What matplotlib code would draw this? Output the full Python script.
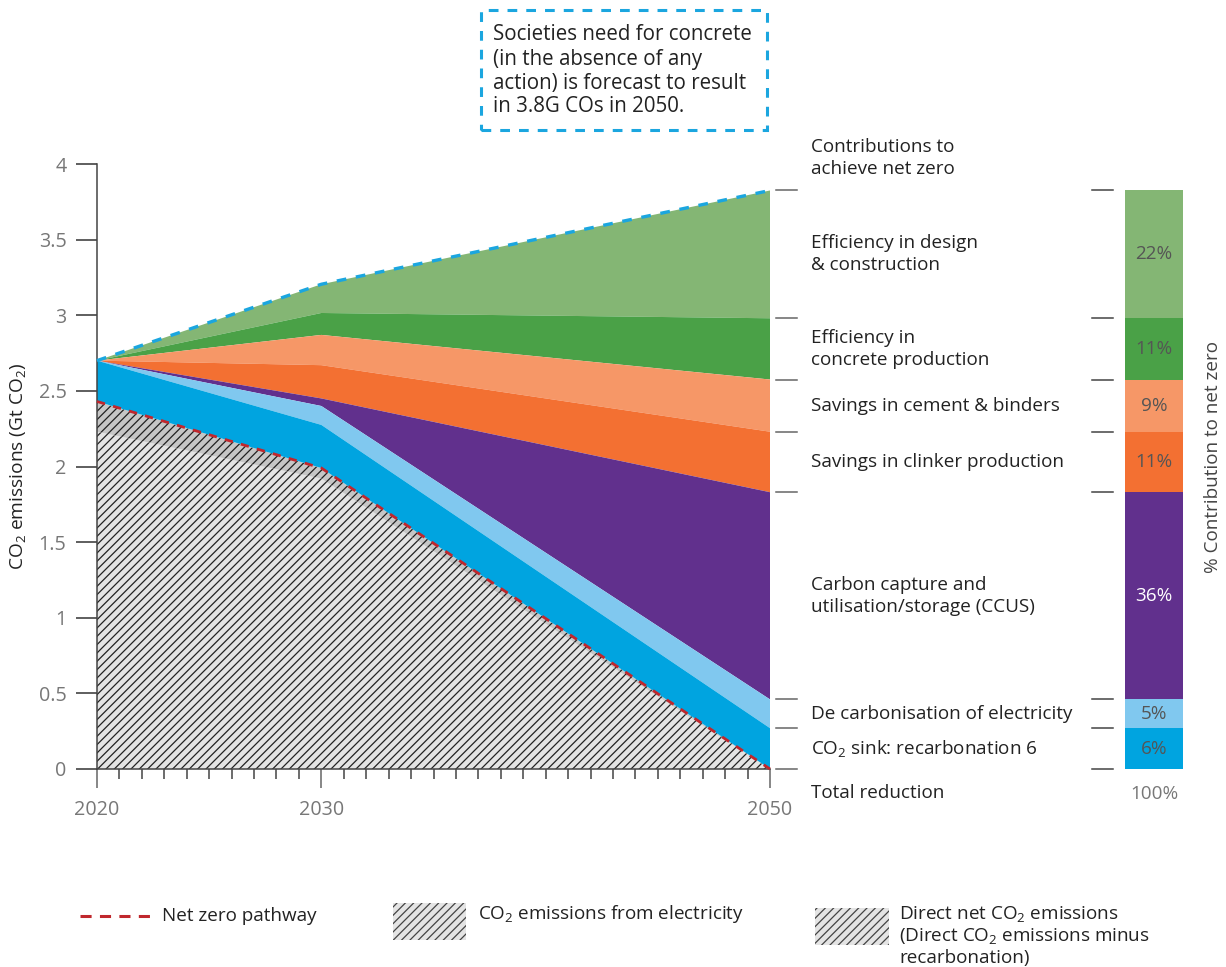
import matplotlib
matplotlib.use('Agg')
import matplotlib.pyplot as plt
from matplotlib.lines import Line2D
from matplotlib.patches import Rectangle

plt.rcParams['font.family'] = ['Open Sans', 'DejaVu Sans']
plt.rcParams['mathtext.default'] = 'regular'
plt.rcParams['hatch.linewidth'] = 0.9
plt.rcParams['lines.scale_dashes'] = False

# data (Gt CO2, tops of each stacked layer)
years = [2020, 2030, 2050]
direct_net_top = [2.23, 1.92, 0.0]
net_zero_top = [2.43, 1.99, 0.0]
recarbonation_top = [2.70, 2.275, 0.27]
electricity_top = [2.70, 2.40, 0.46]
ccus_top = [2.70, 2.45, 1.83]
clinker_top = [2.70, 2.67, 2.23]
cement_top = [2.70, 2.87, 2.575]
concrete_top = [2.70, 3.015, 2.98]
design_top = [2.70, 3.205, 3.825]

layer_labels = ['Efficiency in design\n& construction',
                'Efficiency in\nconcrete production',
                'Savings in cement & binders',
                'Savings in clinker production',
                'Carbon capture and\nutilisation/storage (CCUS)',
                'De carbonisation of electricity',
                'CO$_2$ sink: recarbonation 6']
layer_pcts = ['22%', '11%', '9%', '11%', '36%', '5%', '6%']

colors = ['#84b674', '#4aa147', '#f69767', '#f37032', '#61308d', '#80c8ef', '#00a4e0']

W, H = 1226, 967
FS = 13.6
fig = plt.figure(figsize=(W / 100, H / 100), dpi=100)

def px_box(x0, y0, x1, y1):
    return [x0 / W, 1 - y1 / H, (x1 - x0) / W, (y1 - y0) / H]

ax = fig.add_axes(px_box(97, 164, 770, 769))
ax.set_xlim(2020, 2050)
ax.set_ylim(0, 4)

# hatched bottom layers
ax.fill_between(years, 0, direct_net_top, facecolor='#e4e4e4', edgecolor='#222222',
                hatch='////', linewidth=0)
ax.fill_between(years, direct_net_top, net_zero_top, facecolor='#c6c6c6', edgecolor='#222222',
                hatch='////', linewidth=0)

tops = [design_top, concrete_top, cement_top, clinker_top, ccus_top, electricity_top, recarbonation_top]
bottoms = tops[1:] + [net_zero_top]
for top, bot, c in zip(tops, bottoms, colors):
    ax.fill_between(years, bot, top, facecolor=c, linewidth=0)

ax.plot(years, net_zero_top, color='#c0272d', lw=2.0, linestyle=(0, (6, 6)), clip_on=False, zorder=5)
ax.plot(years, design_top, color='#1ba6df', lw=2.4, linestyle=(0, (7, 7)), clip_on=False, zorder=5)

for s in ['top', 'right']:
    ax.spines[s].set_visible(False)
for s in ['left', 'bottom']:
    ax.spines[s].set_color('#444444')
    ax.spines[s].set_linewidth(1.1)

ax.set_yticks([0, 0.5, 1, 1.5, 2, 2.5, 3, 3.5, 4])
ax.set_yticklabels(['0', '0.5', '1', '1.5', '2', '2.5', '3', '3.5', '4'])
ax.set_xticks([2020, 2030, 2050])
ax.set_xticks(range(2021, 2050), minor=True)
ax.tick_params(axis='y', length=15, width=1.1, color='#333333', pad=7,
               labelsize=14.2, labelcolor='#777777')
ax.tick_params(axis='x', which='major', length=14, width=1.1, color='#666666', pad=8,
               labelsize=14.2, labelcolor='#777777')
ax.tick_params(axis='x', which='minor', length=7, width=1.1, color='#444444')
ax.set_ylabel('CO$_2$ emissions (Gt CO$_2$)', fontsize=13.8, color='#222222')
ax.yaxis.set_label_coords(-0.102, 0.5)

# right-hand panel, same y scale, x in pixels
ax2 = fig.add_axes(px_box(770, 164, 1226, 769))
ax2.set_xlim(0, 456)
ax2.set_ylim(0, 4)
ax2.axis('off')

edges = [design_top[-1]] + [b[-1] for b in bottoms]
for e in edges:
    ax2.plot([6, 27], [e, e], color='#666666', lw=1.1, clip_on=False)
    ax2.plot([322, 343], [e, e], color='#444444', lw=1.1, clip_on=False)

for i, (top, bot) in enumerate(zip(tops, bottoms)):
    t, b = top[-1], bot[-1]
    ax2.bar(384, t - b, bottom=b, width=58, color=colors[i], linewidth=0)
    ax2.text(384, (t + b) / 2, layer_pcts[i], ha='center', va='center', fontsize=FS,
             color='white' if i == 4 else '#555555')
    lines = layer_labels[i].split('\n')
    mid = (t + b) / 2
    off = 22 / 151.2
    for j, ln in enumerate(lines):
        y = mid + off * ((len(lines) - 1) / 2 - j)
        ax2.text(41, y, ln, ha='left', va='center', fontsize=FS, color='#222222')

px = 1 / 151.2
ax2.text(41, (769 - 147) * px, 'Contributions to', ha='left', va='center', fontsize=FS, color='#222222', clip_on=False)
ax2.text(41, (769 - 169) * px, 'achieve net zero', ha='left', va='center', fontsize=FS, color='#222222', clip_on=False)
ax2.text(41, (769 - 793) * px, 'Total reduction', ha='left', va='center', fontsize=FS, color='#222222', clip_on=False)
ax2.text(384, (769 - 794) * px, '100%', ha='center', va='center', fontsize=FS, color='#777777', clip_on=False)
ax2.text(443, (769 - 457) * px, '% Contribution to net zero', rotation=90, ha='center', va='center',
         fontsize=FS, color='#444444')

# callout box
fig.add_artist(Rectangle((481 / W, 1 - 130 / H), 286 / W, 120 / H, transform=fig.transFigure,
                         fill=False, edgecolor='#1ba6df', lw=2.2, linestyle=(0, (7, 6.5))))
box_lines = ['Societies need for concrete', '(in the absence of any',
             'action) is forecast to result', 'in 3.8G COs in 2050.']
for k, ln in enumerate(box_lines):
    fig.text(493 / W, 1 - (35 + 24 * k) / H, ln, ha='left', va='center', fontsize=14.8, color='#222222')

# legend
fig.add_artist(Line2D([80 / W, 153 / W], [1 - 916 / H] * 2, transform=fig.transFigure,
                      color='#c0272d', lw=2.2, linestyle=(0, (8, 6))))
fig.text(162 / W, 1 - 916 / H, 'Net zero pathway', ha='left', va='center', fontsize=FS, color='#222222')
fig.add_artist(Rectangle((393 / W, 1 - 940 / H), 73 / W, 37 / H, transform=fig.transFigure,
                         facecolor='#e4e4e4', edgecolor='#444444', hatch='////', lw=0))
fig.text(478 / W, 1 - 914 / H, 'CO$_2$ emissions from electricity', ha='left', va='center',
         fontsize=FS, color='#222222')
fig.add_artist(Rectangle((815 / W, 1 - 945 / H), 74 / W, 37 / H, transform=fig.transFigure,
                         facecolor='#e4e4e4', edgecolor='#444444', hatch='////', lw=0))
for k, ln in enumerate(['Direct net CO$_2$ emissions', '(Direct CO$_2$ emissions minus', 'recarbonation)']):
    fig.text(899 / W, 1 - (914 + 22 * k) / H, ln, ha='left', va='center', fontsize=FS, color='#222222')

fig.savefig('out.png', dpi=100)
